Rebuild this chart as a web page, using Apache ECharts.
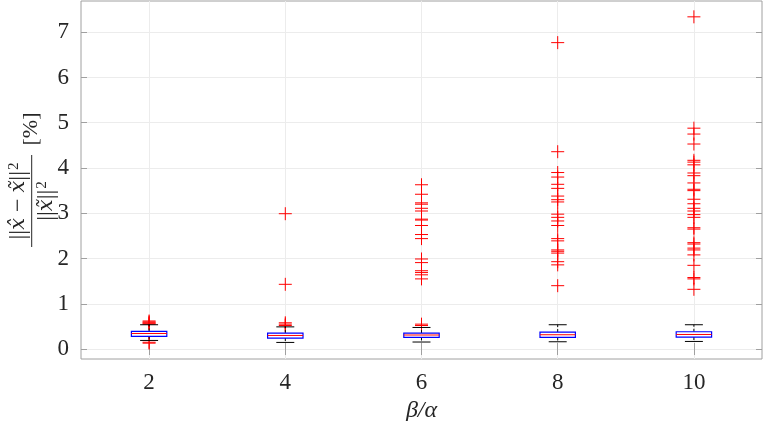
<!DOCTYPE html>
<html>
<head>
<meta charset="utf-8">
<script src="https://cdn.jsdelivr.net/npm/echarts@6/dist/echarts.min.js"></script>
<style>
html, body { margin: 0; padding: 0; background: #fff; }
#chart { width: 764px; height: 421px; }
</style>
</head>
<body>
<div id="chart"></div>
<script>
// beta/alpha groups
const categories = ['2', '4', '6', '8', '10'];
const yTicks = [0, 1, 2, 3, 4, 5, 6, 7];

// box statistics per group
const whiskerLow = [0.19, 0.146, 0.155, 0.161, 0.168];
const q1 = [0.278, 0.243, 0.256, 0.256, 0.265];
const median = [0.344, 0.30, 0.31, 0.316, 0.322];
const q3 = [0.389, 0.353, 0.353, 0.375, 0.382];
const whiskerHigh = [0.537, 0.49, 0.477, 0.537, 0.537];

// outliers per group
const out2 = [0.55, 0.57, 0.58, 0.60, 0.62, 0.15, 0.13];
const out4 = [0.52, 0.55, 0.58, 1.43, 2.99];
const out6 = [0.52, 0.55, 1.55, 1.64, 1.69, 1.73, 1.91, 1.99, 2.44, 2.53, 2.73, 2.85, 2.87,
    3.05, 3.11, 3.20, 3.23, 3.42, 3.63];
const out8 = [1.40, 1.86, 1.93, 2.12, 2.16, 2.19, 2.39, 2.44, 2.73, 2.83, 2.91, 2.98, 3.25,
    3.30, 3.38, 3.55, 3.64, 3.80, 3.90, 4.36, 6.77];
const out10 = [1.32, 1.55, 1.58, 1.85, 2.08, 2.19, 2.23, 2.32, 2.35, 2.65, 2.68, 2.91, 2.97,
    3.05, 3.11, 3.21, 3.31, 3.50, 3.53, 3.67, 3.83, 3.89, 4.07, 4.13, 4.17, 4.53, 4.75, 4.88, 7.34];
const outliers = [out2, out4, out6, out8, out10];

const SERIF = "'Liberation Serif', 'DejaVu Serif', serif";
const TXT = '#262626';
const FRAME = '#a0a0a0';
const GRIDLINE = '#ececec';

const boxData = categories.map((c, i) => [i + 1, whiskerLow[i], q1[i], median[i], q3[i], whiskerHigh[i]]);
const outlierData = [];
outliers.forEach((list, i) => list.forEach(v => outlierData.push([i + 1, v])));

function renderBox(params, api) {
    const x = api.value(0);
    const unit = api.size([1, 0])[0];
    const halfBox = unit * 0.13;
    const halfCap = unit * 0.066;
    const pLo = api.coord([x, api.value(1)]);
    const p1 = api.coord([x, api.value(2)]);
    const pm = api.coord([x, api.value(3)]);
    const p3 = api.coord([x, api.value(4)]);
    const pHi = api.coord([x, api.value(5)]);
    const cx = pm[0];
    const black = { stroke: '#000', lineWidth: 1 };
    return {
        type: 'group',
        children: [
            { type: 'line', shape: { x1: cx, y1: p3[1], x2: cx, y2: pHi[1] }, style: { stroke: '#000', lineWidth: 1, lineDash: [3, 2] } },
            { type: 'line', shape: { x1: cx, y1: p1[1], x2: cx, y2: pLo[1] }, style: { stroke: '#000', lineWidth: 1, lineDash: [3, 2] } },
            { type: 'line', shape: { x1: cx - halfCap, y1: pHi[1], x2: cx + halfCap, y2: pHi[1] }, style: black },
            { type: 'line', shape: { x1: cx - halfCap, y1: pLo[1], x2: cx + halfCap, y2: pLo[1] }, style: black },
            { type: 'rect', shape: { x: cx - halfBox, y: p3[1], width: halfBox * 2, height: p1[1] - p3[1] },
              style: { fill: '#fff', stroke: '#0000ff', lineWidth: 1.2 } },
            { type: 'line', shape: { x1: cx - halfBox, y1: pm[1], x2: cx + halfBox, y2: pm[1] }, style: { stroke: '#ff0000', lineWidth: 1 } }
        ]
    };
}

function renderPlus(params, api) {
    const p = api.coord([api.value(0), api.value(1)]);
    const h = 6.5;
    const st = { stroke: '#ff0000', lineWidth: 1 };
    return {
        type: 'group',
        children: [
            { type: 'line', shape: { x1: p[0] - h, y1: p[1], x2: p[0] + h, y2: p[1] }, style: st },
            { type: 'line', shape: { x1: p[0], y1: p[1] - h, x2: p[0], y2: p[1] + h }, style: st }
        ]
    };
}

const xBase = {
    type: 'value',
    min: 0.5,
    max: 5.5,
    axisLine: { show: false },
    axisTick: { show: true, inside: true, length: 6, customValues: [1, 2, 3, 4, 5], lineStyle: { color: FRAME } },
    splitLine: { show: false }
};
const yBase = {
    type: 'value',
    min: -0.22,
    max: 7.69,
    axisLine: { show: false },
    axisTick: { show: true, inside: true, length: 6, customValues: yTicks, lineStyle: { color: FRAME } },
    splitLine: { show: false }
};

const mathRich = {
    n: { fontFamily: SERIF, fontSize: 24, fill: TXT },
    v: { fontFamily: "'DejaVu Serif', serif", fontStyle: 'italic', fontSize: 21, fill: TXT },
    s: { fontFamily: SERIF, fontSize: 15, fill: TXT, verticalAlign: 'top', padding: [0, 0, 9, 1] }
};

const chart = echarts.init(document.getElementById('chart'));
chart.setOption({
    animation: false,
    backgroundColor: '#fff',
    grid: {
        left: 81, right: 2, top: 1, bottom: 62,
        outerBoundsMode: 'none',
        containLabel: false,
        show: true, borderColor: FRAME, borderWidth: 1, backgroundColor: 'transparent'
    },
    xAxis: [
        Object.assign({}, xBase, {
            position: 'bottom',
            splitLine: { show: true, lineStyle: { color: GRIDLINE, width: 1 } },
            axisLabel: {
                show: true, customValues: [1, 2, 3, 4, 5], margin: 12,
                formatter: v => categories[Math.round(v) - 1],
                fontFamily: SERIF, fontSize: 23, color: TXT
            },
            name: 'β/α',
            nameLocation: 'middle',
            nameGap: 37,
            nameTextStyle: { fontFamily: SERIF, fontStyle: 'italic', fontSize: 24, color: TXT }
        }),
        Object.assign({}, xBase, { position: 'top', axisLabel: { show: false } })
    ],
    yAxis: [
        Object.assign({}, yBase, {
            position: 'left',
            splitLine: { show: true, lineStyle: { color: GRIDLINE, width: 1 } },
            axisLabel: { show: true, customValues: yTicks, margin: 12, fontFamily: SERIF, fontSize: 23, color: TXT }
        }),
        Object.assign({}, yBase, { position: 'right', axisLabel: { show: false } })
    ],
    graphic: [{
        type: 'group',
        x: 31.7,
        y: 201,
        rotation: Math.PI / 2,
        children: [
            {
                type: 'text', x: 0, y: -1,
                style: {
                    text: '{n|||}{v|x\u0302}{n| − }{v|x\u0303}{n|||}{s|2}',
                    align: 'center', verticalAlign: 'bottom',
                    rich: mathRich
                }
            },
            { type: 'line', shape: { x1: -46, y1: 0, x2: 46, y2: 0 }, style: { stroke: TXT, lineWidth: 1 } },
            {
                type: 'text', x: 0, y: 3,
                style: {
                    text: '{n|||}{v|x\u0303}{n|||}{s|2}',
                    align: 'center', verticalAlign: 'top',
                    rich: mathRich
                }
            },
            {
                type: 'text', x: 72, y: 0,
                style: { text: '[%]', align: 'center', verticalAlign: 'middle', fontFamily: SERIF, fontSize: 22, fill: TXT }
            }
        ]
    }],
    series: [
        {
            type: 'custom',
            name: 'outliers',
            renderItem: renderPlus,
            encode: { x: 0, y: 1 },
            data: outlierData,
            z: 3
        },
        {
            type: 'custom',
            name: 'boxes',
            renderItem: renderBox,
            encode: { x: 0, y: [1, 2, 3, 4, 5] },
            data: boxData,
            z: 4
        }
    ]
});
</script>
</body>
</html>
